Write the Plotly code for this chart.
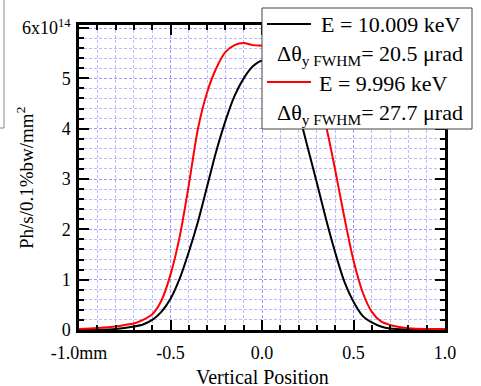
import plotly.graph_objects as go

# ---- data ----
x_black = [-1.0, -0.9, -0.8, -0.7, -0.65, -0.6, -0.55, -0.5, -0.45, -0.4, -0.35, -0.3, -0.25, -0.2,
           -0.15, -0.1, -0.05, 0.0, 0.05, 0.1, 0.15, 0.2, 0.25, 0.3, 0.35, 0.4, 0.45, 0.5, 0.55,
           0.6, 0.65, 0.7, 0.8, 0.9, 1.0]
y_black = [0.0, 0.005, 0.02, 0.07, 0.11, 0.2, 0.36, 0.62, 1.02, 1.55, 2.15, 2.85, 3.55, 4.15,
           4.65, 5.0, 5.24, 5.35, 5.3, 5.08, 4.72, 4.3, 3.62, 2.92, 2.2, 1.54, 0.96, 0.56, 0.28,
           0.15, 0.07, 0.03, 0.01, 0.0, 0.0]

x_red = [-1.0, -0.9, -0.8, -0.75, -0.7, -0.65, -0.6, -0.55, -0.5, -0.45, -0.4, -0.35, -0.3, -0.25,
         -0.2, -0.15, -0.1, -0.05, 0.0, 0.05, 0.1, 0.15, 0.2, 0.25, 0.3, 0.35, 0.4, 0.45, 0.5,
         0.55, 0.6, 0.65, 0.7, 0.75, 0.8, 0.9, 1.0]
y_red = [0.02, 0.04, 0.07, 0.1, 0.13, 0.2, 0.31, 0.58, 1.1, 1.85, 2.88, 4.0, 4.72, 5.2,
         5.52, 5.66, 5.70, 5.66, 5.65, 5.64, 5.6, 5.52, 5.36, 5.1, 4.68, 4.05, 3.18, 2.24, 1.38,
         0.75, 0.36, 0.17, 0.10, 0.06, 0.035, 0.02, 0.02]

x_tickvals = [-1.0, -0.5, 0.0, 0.5, 1.0]
x_ticktext = ["-1.0mm", "-0.5", "0.0", "0.5", "1.0"]
y_tickvals = [0, 1, 2, 3, 4, 5, 6]
y_ticktext = ["0", "1", "2", "3", "4", "5", "6x10<sup>14</sup>"]

legend_lines = ["E = 10.009 keV", "\u0394\u03b8<sub>y FWHM</sub>= 20.5 \u03bcrad",
                "E = 9.996 keV", "\u0394\u03b8<sub>y FWHM</sub>= 27.7 \u03bcrad"]

FONT = "Liberation Serif"
GRID = "rgba(130,130,255,0.55)"

W, H = 481, 386
L, R, T, B = 79, 445, 25, 330


def px(x):
    return (x - L) / (R - L)


def py(y):
    return (B - y) / (B - T)


fig = go.Figure()
fig.add_trace(go.Scatter(x=x_black, y=y_black, mode="lines",
                         line=dict(color="black", width=2, shape="spline", smoothing=0.8),
                         showlegend=False))
fig.add_trace(go.Scatter(x=x_red, y=y_red, mode="lines",
                         line=dict(color="red", width=2, shape="spline", smoothing=0.8),
                         showlegend=False))

axis_common = dict(showline=True, linecolor="black", linewidth=2.5, mirror="ticks", ticks="inside",
                   tickwidth=2, tickcolor="black", ticklen=10, showgrid=True, gridcolor=GRID,
                   griddash="3px,2px", gridwidth=1, zeroline=False,
                   tickfont=dict(family=FONT, size=18, color="black"))

fig.update_xaxes(range=[-1.0, 1.0], tickmode="array", tickvals=x_tickvals, ticktext=x_ticktext,
                 ticklabelstandoff=5,
                 minor=dict(dtick=0.1, tick0=0, ticklen=5, tickwidth=2, tickcolor="black", ticks="inside",
                            showgrid=True, gridcolor=GRID, griddash="3px,2px", gridwidth=1),
                 **axis_common)
fig.update_yaxes(range=[0, 6.06], tickmode="array", tickvals=y_tickvals, ticktext=y_ticktext,
                 ticklabelstandoff=2,
                 minor=dict(dtick=0.2, tick0=0, ticklen=5, tickwidth=2, tickcolor="black", ticks="inside",
                            showgrid=True, gridcolor=GRID, griddash="3px,2px", gridwidth=1),
                 **axis_common)

shapes = [
    # legend box
    dict(type="rect", xref="paper", yref="paper", x0=px(262), x1=px(472), y0=py(129), y1=py(8),
         fillcolor="white", line=dict(color="#444", width=1), layer="above"),
    dict(type="line", xref="paper", yref="paper", x0=px(267), x1=px(311), y0=py(24), y1=py(24),
         line=dict(color="black", width=2)),
    dict(type="line", xref="paper", yref="paper", x0=px(267), x1=px(311), y0=py(82), y1=py(82),
         line=dict(color="red", width=2)),
    # fragment of another box at far left
    dict(type="line", xref="paper", yref="paper", x0=px(4), x1=px(4), y0=py(0), y1=py(128),
         line=dict(color="#888", width=1)),
    dict(type="line", xref="paper", yref="paper", x0=px(0), x1=px(4), y0=py(128), y1=py(128),
         line=dict(color="#888", width=1)),
]

annotations = [
    dict(text=legend_lines[0], x=px(319), y=py(24), xanchor="left", yanchor="middle"),
    dict(text=legend_lines[1], x=px(275), y=py(55), xanchor="left", yanchor="middle"),
    dict(text=legend_lines[2], x=px(317), y=py(83), xanchor="left", yanchor="middle"),
    dict(text=legend_lines[3], x=px(275), y=py(114), xanchor="left", yanchor="middle"),
]
for a in annotations:
    a.update(xref="paper", yref="paper", showarrow=False, font=dict(family=FONT, size=22, color="black"))

annotations.append(dict(text="Ph/s/0.1%bw/mm<sup>2</sup>", textangle=-90, x=px(25), y=py(178),
                        xref="paper", yref="paper", xanchor="center", yanchor="middle", showarrow=False,
                        font=dict(family=FONT, size=19, color="black")))
annotations.append(dict(text="Vertical Position", x=px(262), y=py(377), xref="paper", yref="paper",
                        xanchor="center", yanchor="middle", showarrow=False,
                        font=dict(family=FONT, size=20, color="black")))

fig.update_layout(width=W, height=H, margin=dict(l=L, r=W - R, t=T, b=H - B, pad=0),
                  plot_bgcolor="white", paper_bgcolor="white", shapes=shapes, annotations=annotations,
                  font=dict(family=FONT), hovermode=False)

fig.write_html("out.html", config={"displayModeBar": False},
               post_script="document.body.style.margin='0';")
